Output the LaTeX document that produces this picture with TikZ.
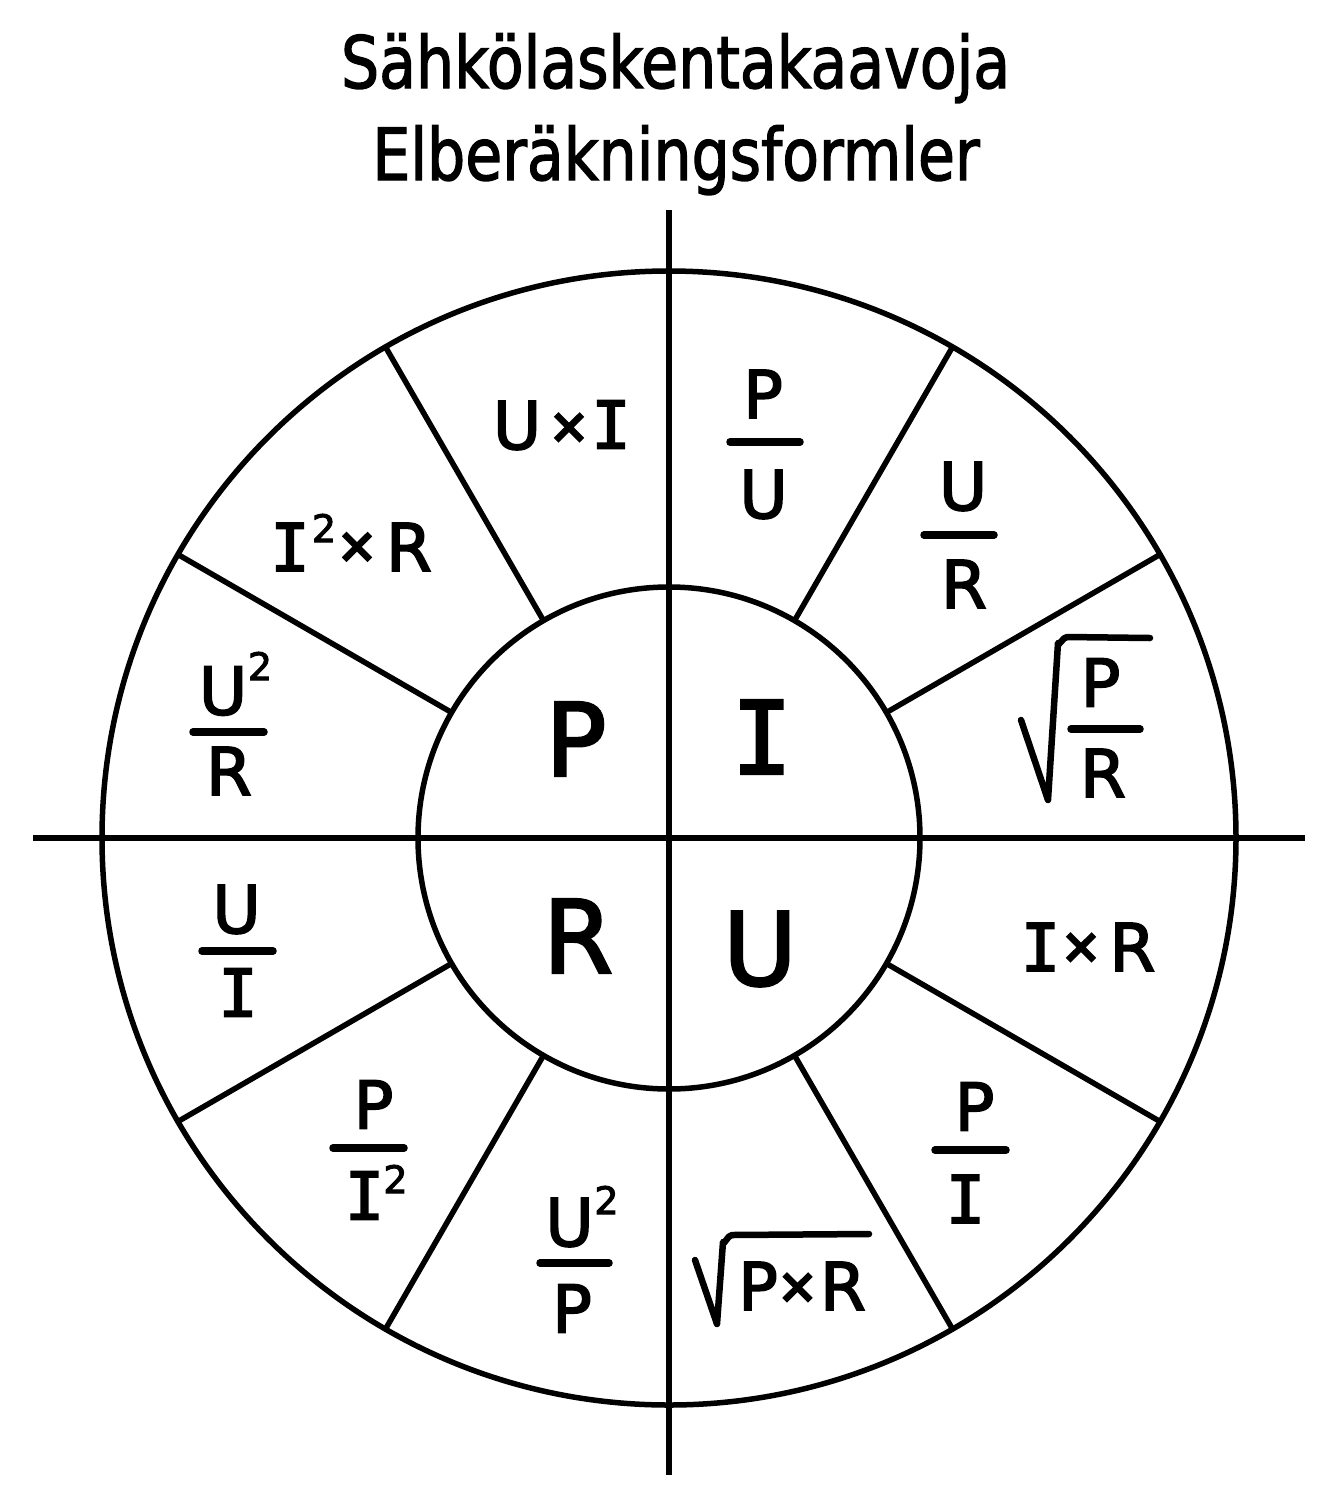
\documentclass[tikz,border=0pt]{standalone}
\usepackage{fontspec}
\usepackage{graphicx}
\usetikzlibrary{calc}
\newfontfamily\dvs[FakeBold=2.5]{DejaVu Sans}
\newfontfamily\dvm[FakeBold=2.5]{DejaVu Sans Mono}
\newfontfamily\dvt[FakeBold=2]{DejaVu Sans}
\newcommand\fFrm{\dvs\fontsize{66}{66}\selectfont}
\newcommand\fFrmI{\dvm\fontsize{66}{66}\selectfont}
\newcommand\fBig{\dvs\fontsize{101}{101}\selectfont}
\newcommand\fBigI{\dvm\fontsize{101}{101}\selectfont}
\newcommand\fExp{\dvs\fontsize{38}{38}\selectfont}
\newcommand\fTimes{\dvm\fontsize{62}{62}\selectfont}
\newcommand\fTitle{\dvt\fontsize{72}{72}\selectfont}
\begin{document}
\begin{tikzpicture}[x=1pt,y=-1pt,
  ln/.style={line width=5.5pt},
  fbar/.style={line width=7.5pt,line cap=round},
  radl/.style={line width=6.5pt,line cap=round,line join=round},
  gl/.style={inner sep=0pt,anchor=center,font=\fFrm},
  glI/.style={inner sep=0pt,anchor=center,font=\fFrmI},
  bigl/.style={inner sep=0pt,anchor=center,font=\fBig},
  bigI/.style={inner sep=0pt,anchor=center,font=\fBigI},
  expo/.style={inner sep=0pt,anchor=center,font=\fExp},
  tms/.style={inner sep=0pt,anchor=center,font=\fTimes},
  ttl/.style={inner sep=0pt,anchor=base,font=\fTitle}]
\useasboundingbox (0,0) rectangle (1342,1505);
\fill[white] (0,0) rectangle (1342,1505);

% title
\node[ttl] (t1) at (675.5,88) {\scalebox{0.835}[1]{Sähkölaskentakaavoja}};
\node[ttl] (t2) at (676,180) {\scalebox{0.835}[1]{Elberäkningsformler}};

% wheel
\coordinate (c) at (669,838);
\draw[ln] (c) circle[radius=567];
\draw[ln] (c) circle[radius=251];
\coordinate (hl) at (33,838);
\coordinate (hr) at (1305,838);
\coordinate (vt) at (669,210);
\coordinate (vb) at (669,1475);
\draw[ln] (hl) -- (hr);
\draw[ln] (vt) -- (vb);
\foreach \a in {30,60,120,150,210,240,300,330}
  \draw[ln] ($(c)+(\a:251)$) -- ($(c)+(\a:567)$);

% centre letters
\node[bigl] (cP) at (576,739) {P};
\node[bigI] (cI) at (762,737) {I};
\node[bigl] (cR) at (578,936) {R};
\node[bigl] (cU) at (760,949) {U};

% U x I
\node[gl] (a1) at (517,425.5) {U};
\node[tms] (a2) at (569,430) {×};
\node[glI] (a3) at (611,424.5) {I};

% I^2 x R
\node[glI] (b1) at (290,547) {I};
\node[expo] (b2) at (324,528) {2};
\node[tms] (b3) at (357,549.5) {×};
\node[gl] (b4) at (409,547) {R};

% U^2 / R
\node[gl] (c1) at (223,691) {U};
\node[expo] (c2) at (260,666) {2};
\coordinate (c3a) at (193,732); \coordinate (c3b) at (264,732);
\draw[fbar] (c3a) -- (c3b);
\node[gl] (c4) at (229,771) {R};

% P / U
\node[gl] (d1) at (763,394) {P};
\coordinate (d2a) at (730,442); \coordinate (d2b) at (800,442);
\draw[fbar] (d2a) -- (d2b);
\node[gl] (d3) at (763.5,494.5) {U};

% U / R
\node[gl] (e1) at (963,486.5) {U};
\coordinate (e2a) at (924,535); \coordinate (e2b) at (994,535);
\draw[fbar] (e2a) -- (e2b);
\node[gl] (e3) at (964,584) {R};

% sqrt(P/R)
\coordinate (f0) at (1021,720);
\coordinate (f1) at (1048,800);
\coordinate (f2) at (1058,643);
\coordinate (f3) at (1067,637);
\coordinate (f4) at (1150,638);
\draw[radl] (f0) -- (f1) -- (f2) to[out=-80,in=180] (f3) -- (f4);
\node[gl] (f5) at (1100.5,682.5) {P};
\coordinate (f6a) at (1071,729); \coordinate (f6b) at (1140,729);
\draw[fbar] (f6a) -- (f6b);
\node[gl] (f7) at (1103,773) {R};

% I x R
\node[glI] (g1) at (1040.5,947) {I};
\node[tms] (g2) at (1081,950) {×};
\node[gl] (g3) at (1132.5,947) {R};

% P / I
\node[gl] (h1) at (974.5,1106.5) {P};
\coordinate (h2a) at (935,1150); \coordinate (h2b) at (1006,1150);
\draw[fbar] (h2a) -- (h2b);
\node[glI] (h3) at (965.5,1199) {I};

% sqrt(P x R)
\coordinate (k0) at (695,1260);
\coordinate (k1) at (717,1324);
\coordinate (k2) at (723,1242);
\coordinate (k3) at (732,1235);
\coordinate (k4) at (869,1234);
\draw[radl] (k0) -- (k1) -- (k2) to[out=-80,in=180] (k3) -- (k4);
\node[gl] (k5) at (758,1286) {P};
\node[tms] (k6) at (797.5,1290) {×};
\node[gl] (k7) at (843,1286) {R};

% U^2 / P
\node[gl] (m1) at (569.5,1222.5) {U};
\node[expo] (m2) at (606.5,1200) {2};
\coordinate (m3a) at (540,1263); \coordinate (m3b) at (609,1263);
\draw[fbar] (m3a) -- (m3b);
\node[gl] (m4) at (572,1308.5) {P};

% P / I^2
\node[gl] (n1) at (373.5,1104.5) {P};
\coordinate (n2a) at (333,1148); \coordinate (n2b) at (404,1148);
\draw[fbar] (n2a) -- (n2b);
\node[glI] (n3) at (364.5,1195.5) {I};
\node[expo] (n4) at (395.5,1179) {2};

% U / I
\node[gl] (p1) at (236.5,909.5) {U};
\coordinate (p2a) at (202,951); \coordinate (p2b) at (273,951);
\draw[fbar] (p2a) -- (p2b);
\node[glI] (p3) at (238,992.5) {I};
\end{tikzpicture}
\end{document}
